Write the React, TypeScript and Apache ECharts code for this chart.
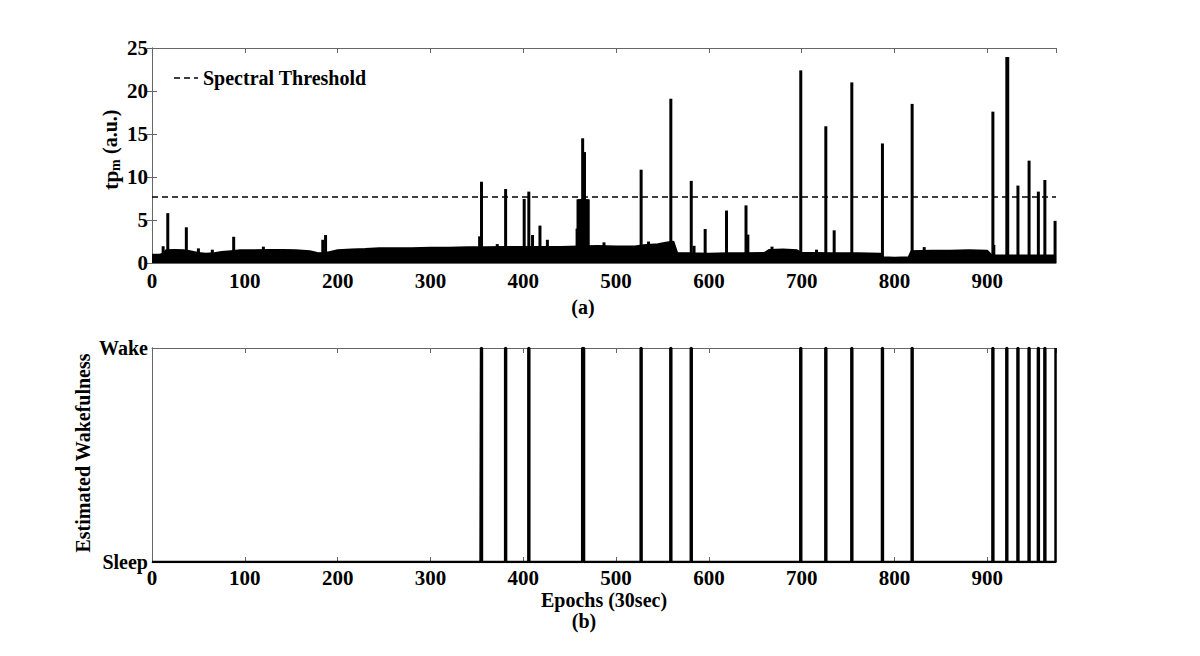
import React, { useEffect, useRef } from "react";
import * as echarts from "echarts";

// ---- data ----
const xTickMax = 974;
const threshold = 7.7;

// upper envelope of the dense low-level signal (epoch, tp_m)
const baselineEnvelope: [number, number][] = [
  [0, 1.0], [8, 1.0], [12, 1.1], [15, 1.5], [25, 1.55], [34, 1.5], [38, 1.45], [45, 1.3],
  [50, 1.2], [58, 1.1], [67, 1.15], [75, 1.3], [85, 1.4], [95, 1.5], [110, 1.5], [125, 1.55],
  [140, 1.55], [155, 1.5], [170, 1.4], [178, 1.2], [185, 1.15], [192, 1.3], [200, 1.5],
  [215, 1.6], [230, 1.65], [245, 1.75], [260, 1.75], [280, 1.75], [300, 1.8], [320, 1.8],
  [340, 1.85], [360, 1.85], [380, 1.9], [400, 1.9], [420, 1.9], [440, 1.9], [460, 1.95],
  [480, 2.0], [500, 1.95], [520, 1.95], [530, 2.1], [545, 2.2], [555, 2.4], [562, 2.5],
  [566, 1.2], [580, 1.15], [600, 1.1], [620, 1.15], [640, 1.15], [660, 1.2], [665, 1.55],
  [680, 1.6], [695, 1.5], [700, 1.2], [715, 1.2], [730, 1.15], [760, 1.15], [785, 1.1],
  [788, 0.7], [800, 0.65], [815, 0.7], [818, 1.4], [840, 1.45], [860, 1.45], [880, 1.5],
  [900, 1.45], [905, 0.9], [930, 0.9], [950, 0.9], [974, 0.9],
];

// individual peaks (epoch, tp_m)
const peaks: [number, number][] = [
  [12, 1.95], [17, 5.8], [37, 4.15], [50, 1.7], [65, 1.55], [88, 3.05], [120, 1.9],
  [184, 2.7], [187, 3.25], [353, 3.1], [355, 9.45], [372, 2.2], [381, 8.6], [401, 7.45],
  [406, 8.3], [410, 3.25], [418, 4.35], [426, 2.7], [458, 4.0], [459, 7.4], [460, 7.4],
  [461, 7.4], [462, 7.4], [463, 7.4], [464, 14.5], [465, 7.4], [466, 12.9], [467, 7.4],
  [468, 7.4], [469, 7.4], [470, 7.4], [487, 2.4], [527, 10.85], [535, 2.5], [559, 19.1],
  [581, 9.55], [584, 2.0], [596, 3.95], [619, 6.1], [640, 6.7], [642, 3.3], [668, 1.9],
  [699, 22.4], [716, 1.55], [726, 15.9], [735, 3.8], [754, 21.0], [787, 13.9], [819, 18.5],
  [832, 1.85], [906, 17.6], [907, 2.1], [921, 23.95], [922, 23.95], [933, 9.0], [945, 11.9],
  [955, 8.3], [962, 9.65], [973, 4.9],
];

// epochs classified as wake
const wakeEpochs: number[] = [
  355, 381, 406, 464, 465, 527, 559, 581, 699, 726, 754, 787, 819, 906, 921, 933, 945, 955, 962, 974,
];
const stateLabels = ["Sleep", "Wake"];

const FONT = "Liberation Serif";
const labelStyle = { fontFamily: FONT, fontWeight: "bold" as const, fontSize: 20, color: "#000" };
const tickStyle = { ...labelStyle, fontSize: 21 };

export default function App() {
  const ref = useRef<HTMLDivElement>(null);
  useEffect(() => {
    if (!ref.current) return;
    const chart = echarts.init(ref.current, undefined, { renderer: "svg" });
    const wakeSet = new Set(wakeEpochs);
    const wakeSeries: [number, number][] = [];
    for (let e = 0; e <= xTickMax; e++) wakeSeries.push([e, wakeSet.has(e) ? 1 : 0]);

    const axisGray = "#666";
    const mkX = (grid: number, pos: "top" | "bottom", labels: boolean, margin: number) => ({
      type: "value",
      gridIndex: grid,
      position: pos,
      min: 0,
      max: xTickMax,
      interval: 100,
      axisLine: { show: true, onZero: false, lineStyle: { color: axisGray, width: 1 } },
      axisTick: { show: true, inside: true, length: 5, lineStyle: { color: axisGray } },
      axisLabel: { show: labels, showMaxLabel: false, margin, ...tickStyle },
      splitLine: { show: false },
    });

    chart.setOption({
      animation: false,
      textStyle: { fontFamily: FONT },
      grid: [
        { left: 152, right: 144, top: 48, height: 215 },
        { left: 152, right: 144, top: 348, height: 214 },
      ],
      xAxis: [
        mkX(0, "bottom", true, 7),
        mkX(0, "top", false, 7),
        mkX(1, "bottom", true, 5),
        mkX(1, "top", false, 5),
      ],
      yAxis: [
        {
          type: "value", gridIndex: 0, position: "left", min: 0, max: 25, interval: 5,
          axisLine: { show: true, lineStyle: { color: axisGray } },
          axisTick: { show: true, inside: true, length: 5, lineStyle: { color: axisGray } },
          axisLabel: { margin: 4, ...tickStyle },
          splitLine: { show: false },
        },
        {
          type: "value", gridIndex: 0, position: "right", min: 0, max: 25, interval: 5,
          axisLine: { show: true, lineStyle: { color: axisGray } },
          axisTick: { show: true, inside: true, length: 5, lineStyle: { color: axisGray } },
          axisLabel: { show: false },
          splitLine: { show: false },
        },
        {
          type: "value", gridIndex: 1, position: "left", min: 0, max: 1, interval: 1,
          axisLine: { show: true, lineStyle: { color: axisGray } },
          axisTick: { show: false },
          axisLabel: { margin: 4, ...labelStyle, formatter: (v: number) => stateLabels[v] ?? "" },
          splitLine: { show: false },
        },
        {
          type: "value", gridIndex: 1, position: "right", min: 0, max: 1, interval: 1,
          axisLine: { show: true, lineStyle: { color: axisGray } },
          axisTick: { show: false },
          axisLabel: { show: false },
          splitLine: { show: false },
        },
      ],
      series: [
        {
          type: "line",
          xAxisIndex: 0,
          yAxisIndex: 0,
          data: baselineEnvelope,
          symbol: "none",
          lineStyle: { color: "#000", width: 1.5 },
          areaStyle: { color: "#000", opacity: 1 },
          markLine: {
            silent: true,
            symbol: ["none", "none"],
            label: { show: false },
            lineStyle: { color: "#000", width: 1.5, type: [6, 4] },
            data: [{ yAxis: threshold }],
          },
          z: 3,
        },
        {
          type: "bar",
          xAxisIndex: 0,
          yAxisIndex: 0,
          data: peaks,
          barWidth: 3,
          itemStyle: { color: "#000" },
          z: 4,
        },
        {
          type: "line",
          xAxisIndex: 2,
          yAxisIndex: 2,
          data: wakeSeries,
          step: "middle",
          symbol: "none",
          lineStyle: { color: "#000", width: 2.5 },
          z: 4,
        },
      ],
      graphic: [
        {
          type: "line",
          shape: { x1: 174, y1: 78, x2: 198, y2: 78 },
          style: { stroke: "#000", lineWidth: 1.5, lineDash: [6, 4] },
        },
        {
          type: "text",
          x: 203,
          y: 78,
          style: { text: "Spectral Threshold", font: `bold 20px "${FONT}"`, fill: "#000", verticalAlign: "middle", align: "left" },
        },
        {
          type: "group",
          x: 110,
          y: 190,
          rotation: Math.PI / 2,
          children: [
            { type: "text", x: 0, y: 0, style: { text: "tp", font: `bold 22px "${FONT}"`, fill: "#000", align: "left", verticalAlign: "middle" } },
            { type: "text", x: 19, y: 5, style: { text: "m", font: `bold 14px "${FONT}"`, fill: "#000", align: "left", verticalAlign: "middle" } },
            { type: "text", x: 36, y: 0, style: { text: "(a.u.)", font: `bold 20px "${FONT}"`, fill: "#000", align: "left", verticalAlign: "middle" } },
          ],
        },
        {
          type: "text",
          x: 583,
          y: 307,
          style: { text: "(a)", font: `bold 20px "${FONT}"`, fill: "#000", align: "center", verticalAlign: "middle" },
        },
        {
          type: "text",
          x: 83,
          y: 453,
          rotation: Math.PI / 2,
          style: { text: "Estimated Wakefulness", font: `bold 20px "${FONT}"`, fill: "#000", align: "center", verticalAlign: "middle" },
        },
        {
          type: "text",
          x: 604,
          y: 600,
          style: { text: "Epochs (30sec)", font: `bold 20px "${FONT}"`, fill: "#000", align: "center", verticalAlign: "middle" },
        },
        {
          type: "text",
          x: 584,
          y: 621,
          style: { text: "(b)", font: `bold 20px "${FONT}"`, fill: "#000", align: "center", verticalAlign: "middle" },
        },
      ],
    });
    return () => chart.dispose();
  }, []);
  return (
    <div
      ref={ref}
      style={{ position: "fixed", left: 0, top: 0, width: 1200, height: 656, background: "#fff" }}
    />
  );
}
